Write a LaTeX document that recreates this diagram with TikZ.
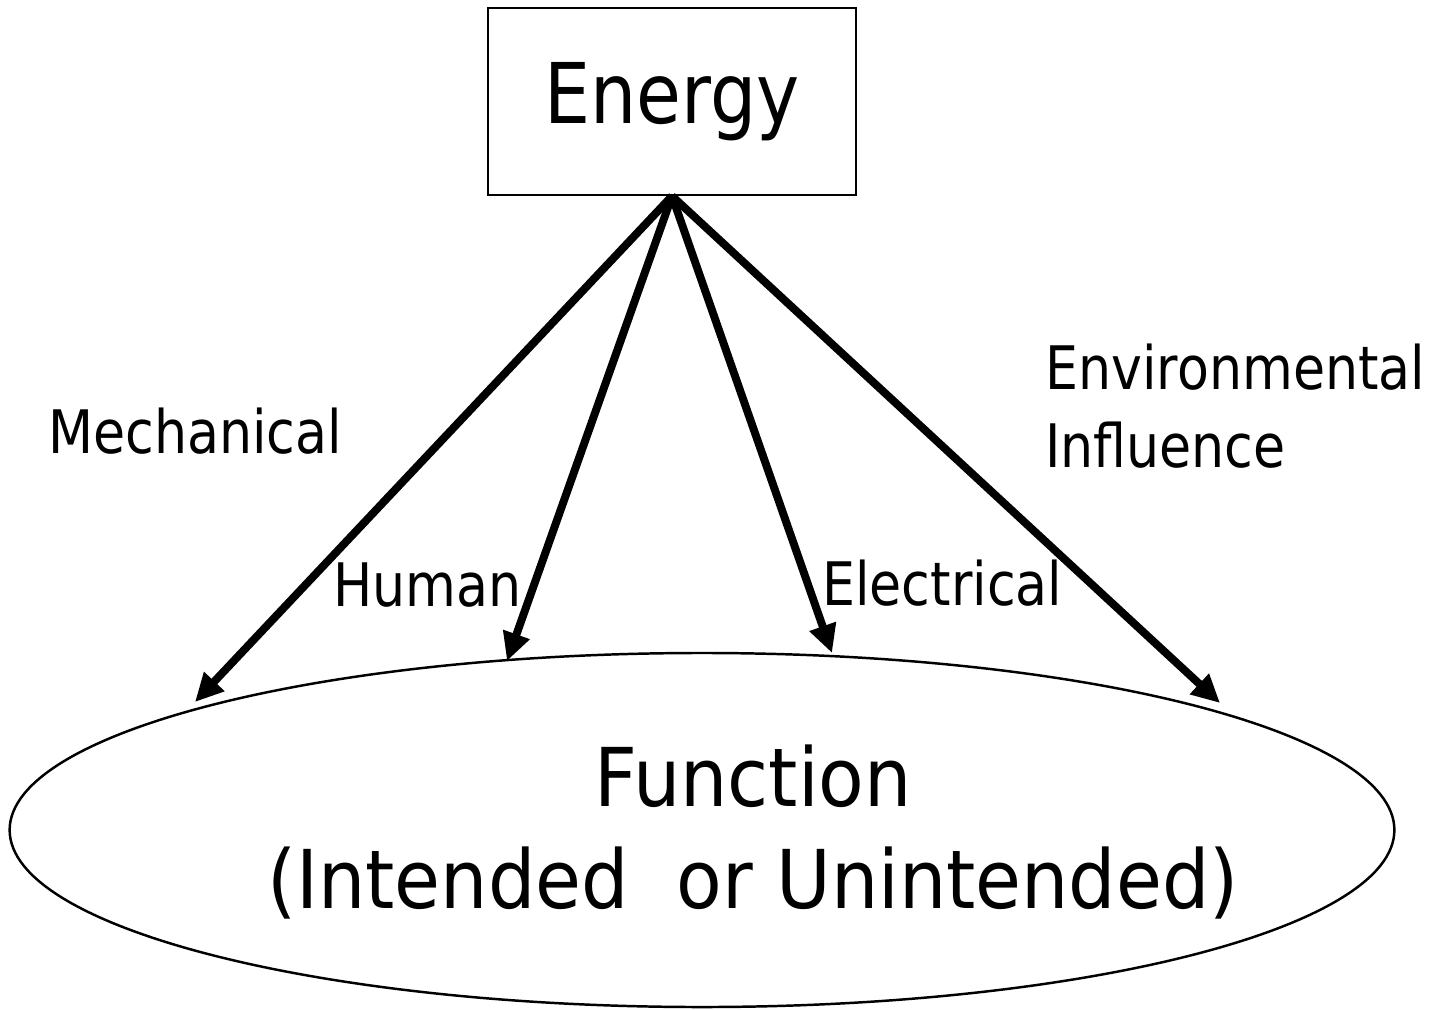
\documentclass[tikz,border=0pt]{standalone}
\usepackage{fontspec}
\setmainfont[FakeStretch=0.87]{DejaVu Sans}
\newfontfamily\wideface[FakeStretch=0.92]{DejaVu Sans}
\usetikzlibrary{shapes.geometric,arrows.meta}

\begin{document}
\begin{tikzpicture}[x=0.5669pt,y=-0.5669pt,
    flow/.style={line width=4.5pt,-{Triangle[length=16pt,width=15pt]}},
    kind/.style={font=\fontsize{34}{44}\selectfont,inner sep=0pt}]

    % Fix the page to the reference size
    \useasboundingbox (0,0) rectangle (1435,1009);

    % Source box
    \node[draw,line width=1.2pt,minimum width=208.6pt,minimum height=106pt,
          font=\fontsize{47.5}{56}\selectfont] (energy) at (672,101.5) {Energy};

    % Target ellipse and its text
    \node[ellipse,draw,line width=1.4pt,minimum width=785pt,
          minimum height=200.7pt,inner sep=0pt] (func) at (702,830) {};
    \node[font=\wideface\fontsize{46}{58}\selectfont,align=center] (functext) at (753,832)
        {Function\\(Intended~~or Unintended)};

    % Where the arrow tips land
    \coordinate (mechtip) at (195,702);
    \coordinate (humantip) at (507,661);
    \coordinate (electip) at (832,653);
    \coordinate (envtip) at (1220,703);

    % Energy paths into the function
    \foreach \tip in {mechtip,humantip,electip,envtip}
        \draw[flow] (energy.south) -- (\tip);

    % Kinds of energy
    \node[kind,anchor=base west] (mech) at (48,453) {Mechanical};
    \node[kind,anchor=base west] (human) at (333,606) {Human};
    \node[kind,anchor=base west] (elec) at (822,605) {Electrical};
    \node[kind,anchor=north west,align=left] (env) at (1045,344)
        {Environmental\\Influence};

\end{tikzpicture}
\end{document}
